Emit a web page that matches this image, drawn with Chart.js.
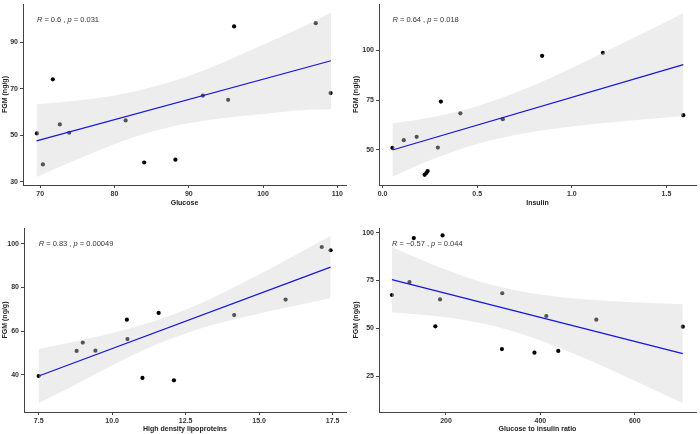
<!DOCTYPE html>
<html lang="en">

<head>
    <title>FGM correlations</title>
    <meta charset="utf-8">
    <script src="https://cdn.jsdelivr.net/npm/chart.js"></script>
    <style>
        body {
            margin: 0;
            background-color: white;
        }

        #wrap {
            position: relative;
            width: 700px;
            height: 434px;
        }

        canvas {
            position: absolute;
        }
    </style>
</head>

<body>
    <div id="wrap">
        <canvas id="glucoseChart" width="350" height="217" style="left:0;top:0"></canvas>
        <canvas id="insulinChart" width="350" height="217" style="left:350px;top:0"></canvas>
        <canvas id="hdlChart" width="350" height="217" style="left:0;top:217px"></canvas>
        <canvas id="ratioChart" width="350" height="217" style="left:350px;top:217px"></canvas>
    </div>

    <script>
        // Glucose panel
        const glucose = [69.55, 70.36, 71.7, 72.64, 73.9, 81.5, 84.0, 88.2, 91.9, 95.3, 96.1, 107.1, 109.1];
        const fgmGlucose = [50.8, 37.45, 74.1, 54.7, 51.1, 56.4, 38.3, 39.5, 67.1, 65.3, 96.9, 98.3, 68.2];
        const glucoseFitX = [69.5, 109.15];
        const glucoseFitY = [47.6, 82.1];
        const glucoseBandX = [69.5, 75, 80, 85, 90, 95, 100, 105, 109.15];
        const glucoseBandLo = [32.0, 39.7, 46.2, 51.5, 55.2, 57.6, 59.2, 60.8, 61.2];
        const glucoseBandHi = [63.4, 65.0, 67.2, 70.7, 75.6, 81.9, 89.0, 96.2, 102.9];

        // Insulin panel
        const insulin = [0.052, 0.112, 0.18, 0.222, 0.231, 0.238, 0.292, 0.308, 0.411, 0.635, 0.843, 1.164, 1.589];
        const fgmInsulin = [51.0, 54.8, 56.5, 37.4, 38.3, 39.3, 51.1, 74.2, 68.3, 65.4, 97.2, 98.7, 67.4];
        const insulinFitX = [0.052, 1.589];
        const insulinFitY = [49.9, 92.8];
        const insulinBandX = [0.052, 0.25, 0.5, 0.75, 1.0, 1.25, 1.589];
        const insulinBandLo = [36.5, 44.7, 52.9, 58.3, 61.7, 64.2, 67.0];
        const insulinBandHi = [63.2, 66.2, 71.9, 80.5, 91.1, 102.6, 118.6];

        // HDL panel
        const hdl = [7.5, 8.79, 9.0, 9.43, 10.5, 10.52, 11.03, 11.58, 12.1, 14.15, 15.9, 17.13, 17.43];
        const fgmHdl = [39.4, 50.9, 54.7, 51.0, 65.2, 56.3, 38.5, 68.3, 37.4, 67.3, 74.4, 98.5, 97.0];
        const hdlFitX = [7.5, 17.43];
        const hdlFitY = [39.4, 89.3];
        const hdlBandX = [7.5, 8.5, 9.5, 10.5, 11.5, 12.5, 13.5, 14.5, 15.5, 16.5, 17.43];
        const hdlBandLo = [27.0, 33.7, 40.8, 47.6, 53.8, 58.9, 63.1, 66.4, 69.5, 72.4, 75.0];
        const hdlBandHi = [51.8, 54.5, 57.5, 60.8, 64.8, 69.7, 75.7, 82.5, 89.5, 96.8, 103.6];

        // Glucose to insulin ratio panel
        const ratio = [85.5, 122.7, 131.8, 177.5, 187.4, 192.8, 318.5, 319.2, 387.4, 412.6, 437.9, 518.5, 701.7];
        const fgmRatio = [67.4, 74.2, 97.2, 51.0, 65.1, 98.6, 39.1, 68.3, 37.2, 56.4, 38.1, 54.5, 50.8];
        const ratioFitX = [85.5, 701.7];
        const ratioFitY = [75.4, 36.7];
        const ratioBandX = [85.5, 200, 300, 400, 500, 600, 701.7];
        const ratioBandLo = [58.4, 55.8, 51.3, 43.6, 33.6, 22.5, 10.8];
        const ratioBandHi = [92.4, 80.6, 72.5, 67.6, 65.0, 63.6, 62.6];

        // tick labels and text
        const glucoseTicks = [70, 80, 90, 100, 110];
        const insulinTicks = [0, 0.5, 1.0, 1.5];
        const hdlTicks = [7.5, 10, 12.5, 15, 17.5];
        const ratioTicks = [200, 400, 600];
        const fgmTicksGlucose = [30, 50, 70, 90];
        const fgmTicksInsulin = [50, 75, 100];
        const fgmTicksHdl = [40, 60, 80, 100];
        const fgmTicksRatio = [25, 50, 75, 100];
        const corR = ['0.6', '0.64', '0.83', '\u22120.57'];
        const corP = ['0.031', '0.018', '0.00049', '0.044'];

        const FONT = '"Liberation Sans", Arial, sans-serif';
        const AXIS = '#444';

        const pts = (xs, ys) => xs.map((x, i) => ({ x: x, y: ys[i] }));

        function makePanel(id, p) {
            // R / p label drawn on top
            const corLabel = {
                id: 'corLabel',
                afterDatasetsDraw(chart) {
                    const ctx = chart.ctx;
                    let x = chart.scales.x.getPixelForValue(p.labelX);
                    const y = chart.chartArea.top + 16;
                    const parts = [['R', true], [' = ' + p.r + ' , ', false], ['p', true], [' = ' + p.p, false]];
                    ctx.save();
                    ctx.fillStyle = '#333';
                    ctx.textBaseline = 'middle';
                    parts.forEach(([t, it]) => {
                        ctx.font = (it ? 'italic ' : '') + '7.5px ' + FONT;
                        ctx.fillText(t, x, y);
                        x += ctx.measureText(t).width;
                    });
                    ctx.restore();
                }
            };

            new Chart(document.getElementById(id), {
                type: 'scatter',
                data: {
                    datasets: [
                        {
                            data: pts(p.x, p.y),
                            backgroundColor: '#000',
                            borderWidth: 0,
                            pointRadius: 2.1,
                            order: 3
                        },
                        {
                            data: pts(p.bandX, p.lo),
                            showLine: true,
                            pointRadius: 0,
                            borderWidth: 0,
                            cubicInterpolationMode: 'monotone',
                            order: 2
                        },
                        {
                            data: pts(p.bandX, p.hi),
                            showLine: true,
                            pointRadius: 0,
                            borderWidth: 0,
                            cubicInterpolationMode: 'monotone',
                            fill: 1,
                            backgroundColor: 'rgba(211,211,211,0.4)',
                            order: 2
                        },
                        {
                            data: pts(p.fitX, p.fitY),
                            showLine: true,
                            pointRadius: 0,
                            borderColor: '#1515e0',
                            borderWidth: 1.2,
                            order: 1
                        }
                    ]
                },
                options: {
                    responsive: false,
                    animation: false,
                    events: [],
                    layout: { padding: { left: 0, top: p.top, right: p.right, bottom: 0 } },
                    plugins: { legend: { display: false }, tooltip: { enabled: false } },
                    scales: {
                        x: {
                            type: 'linear',
                            min: p.xMin,
                            max: p.xMax,
                            afterBuildTicks: (s) => { s.ticks = p.xTicks.map(v => ({ value: v })); },
                            afterFit: (s) => { s.height = p.xH; s.paddingLeft = 0; s.paddingRight = 0; },
                            ticks: {
                                padding: 1.5,
                                color: '#333',
                                font: { family: FONT, size: 7, weight: 'bold' },
                                maxRotation: 0,
                                callback: (v) => v.toFixed(p.xDec)
                            },
                            grid: { drawOnChartArea: false, drawTicks: true, tickLength: 3, color: AXIS },
                            border: { display: true, color: AXIS, width: 1 },
                            title: {
                                display: true,
                                text: p.xTitle,
                                color: '#222',
                                font: { family: FONT, size: 7, weight: 'bold' },
                                padding: { top: 0, bottom: p.titlePad }
                            }
                        },
                        y: {
                            type: 'linear',
                            min: p.yMin,
                            max: p.yMax,
                            afterBuildTicks: (s) => { s.ticks = p.yTicks.map(v => ({ value: v })); },
                            afterFit: (s) => { s.width = p.yW; s.paddingTop = 0; s.paddingBottom = 0; },
                            ticks: {
                                padding: 2,
                                color: '#333',
                                font: { family: FONT, size: 7, weight: 'bold' }
                            },
                            grid: { drawOnChartArea: false, drawTicks: true, tickLength: 3, color: AXIS },
                            border: { display: true, color: AXIS, width: 1 },
                            title: {
                                display: true,
                                text: 'FGM (ng/g)',
                                color: '#222',
                                font: { family: FONT, size: 7, weight: 'bold' },
                                padding: { top: p.yTitlePad, bottom: 0 }
                            }
                        }
                    }
                },
                plugins: [corLabel]
            });
        }

        makePanel('glucoseChart', {
            x: glucose, y: fgmGlucose, fitX: glucoseFitX, fitY: glucoseFitY,
            bandX: glucoseBandX, lo: glucoseBandLo, hi: glucoseBandHi,
            xTicks: glucoseTicks, yTicks: fgmTicksGlucose, xDec: 0,
            xMin: 67.68, xMax: 111.17, yMin: 28.6, yMax: 106.56,
            xTitle: 'Glucose', r: corR[0], p: corP[0], labelX: glucose[0],
            top: 0, right: 3, yW: 23, xH: 32, titlePad: 9.5, yTitlePad: 1
        });

        makePanel('insulinChart', {
            x: insulin, y: fgmInsulin, fitX: insulinFitX, fitY: insulinFitY,
            bandX: insulinBandX, lo: insulinBandLo, hi: insulinBandHi,
            xTicks: insulinTicks, yTicks: fgmTicksInsulin, xDec: 1,
            xMin: -0.019, xMax: 1.656, yMin: 32.3, yMax: 123.25,
            xTitle: 'Insulin', r: corR[1], p: corP[1], labelX: insulin[0],
            top: 0, right: 2, yW: 29, xH: 32, titlePad: 9.5, yTitlePad: 2
        });

        makePanel('hdlChart', {
            x: hdl, y: fgmHdl, fitX: hdlFitX, fitY: hdlFitY,
            bandX: hdlBandX, lo: hdlBandLo, hi: hdlBandHi,
            xTicks: hdlTicks, yTicks: fgmTicksHdl, xDec: 1,
            xMin: 7.0, xMax: 17.955, yMin: 22.9, yMax: 107.2,
            xTitle: 'High density lipoproteins', r: corR[2], p: corP[2], labelX: hdl[0],
            top: 11, right: 3, yW: 24, xH: 22, titlePad: 0.8, yTitlePad: 1
        });

        makePanel('ratioChart', {
            x: ratio, y: fgmRatio, fitX: ratioFitX, fitY: ratioFitY,
            bandX: ratioBandX, lo: ratioBandLo, hi: ratioBandHi,
            xTicks: ratioTicks, yTicks: fgmTicksRatio, xDec: 0,
            xMin: 58.1, xMax: 729.7, yMin: 6.16, yMax: 102.46,
            xTitle: 'Glucose to insulin ratio', r: corR[3], p: corP[3], labelX: ratio[0],
            top: 11, right: 2, yW: 29, xH: 22, titlePad: 0.8, yTitlePad: 2
        });
    </script>
</body>

</html>
